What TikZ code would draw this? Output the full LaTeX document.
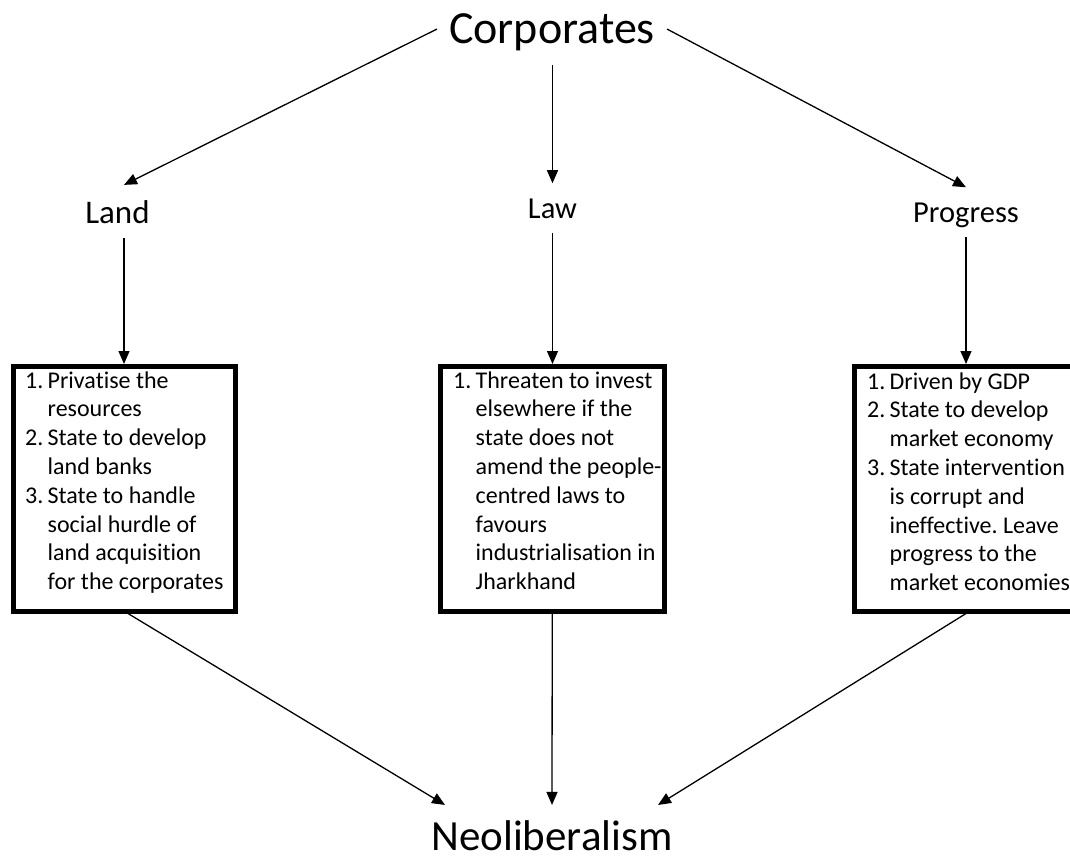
\documentclass[tikz,border=0pt]{standalone}
\usepackage{fontspec}
\setmainfont{Carlito}[Ligatures=NoCommon]
\usetikzlibrary{arrows.meta,calc}
\frenchspacing
\newcommand{\itemlist}[1]{\begin{tabular}[t]{@{}p{22.5pt}@{}l@{}}#1\end{tabular}}
\tikzset{
  arr/.style={-{Triangle[length=13pt,width=11pt]}, line width=1.3pt},
  box/.style={draw, line width=5pt, inner sep=0pt},
  lbl/.style={anchor=base, inner xsep=0pt, inner ysep=15pt, text depth=0pt},
  lst/.style={anchor=base west, inner sep=0pt, font=\fontsize{24}{28.8}\selectfont}
}
\begin{document}
\begin{tikzpicture}[x=1pt,y=-1pt]
\useasboundingbox (0,0) rectangle (1070,859);
\clip (0,0) rectangle (1070,859);
% titles
\node[anchor=base, inner xsep=12pt, inner ysep=21pt, text depth=0pt, font=\fontsize{46}{50}\selectfont] (corp) at (552,44) {Corporates};
\node[anchor=base, inner xsep=0pt, inner ysep=15pt, font=\fontsize{43}{48}\selectfont] (neo) at (552,850) {Neoliberalism};
% labels
\node[lbl, font=\fontsize{33}{36}\selectfont] (land) at (117.5,223) {Land};
\node[lbl, font=\fontsize{30.5}{34}\selectfont] (law) at (552.5,218) {Law};
\node[lbl, font=\fontsize{30.5}{34}\selectfont] (prog) at (966,222) {Progress};
% boxes
\node[box, minimum width=222pt, minimum height=244.5pt] (b1) at (124,488.75) {};
\node[box, minimum width=223.5pt, minimum height=244.5pt] (b2) at (552.25,488.75) {};
\node[box, minimum width=226pt, minimum height=244.5pt] (b3) at (967,488.75) {};
% box texts
\node[lst] (t1) at (25,388) {\itemlist{
1. & Privatise the\\
   & resources\\
2. & State to develop\\
   & land banks\\
3. & State to handle\\
   & social hurdle of\\
   & land acquisition\\
   & for the corporates}};
\node[lst] (t2) at (453,388) {\itemlist{
1. & Threaten to invest\\
   & elsewhere if the\\
   & state does not\\
   & amend the people-\\
   & centred laws to\\
   & favours\\
   & industrialisation in\\
   & Jharkhand}};
\node[lst] (t3) at (867,389) {\itemlist{
1. & Driven by GDP\\
2. & State to develop\\
   & market economy\\
3. & State intervention\\
   & is corrupt and\\
   & ineffective. Leave\\
   & progress to the\\
   & market economies}};
% connectors
\draw[arr] (corp.west) -- (land.north -| b1.north);
\draw[arr] (corp.south -| law.north) -- (law.north);
\draw[arr] (corp.east) -- (prog.north);
\draw[arr] (land.south -| b1.north) -- (b1.north);
\draw[arr] (law.south) -- (law.south |- b2.north);
\draw[arr] (prog.south) -- (prog.south |- b3.north);
\draw[arr] ($(b1.south)+(4,0)$) -- ($(neo.north)+(-107,0)$);
\draw[arr] (b2.south) -- (neo.north);
\draw[arr] (b3.south -| prog.south) -- ($(neo.north)+(106,0)$);
\end{tikzpicture}
\end{document}
